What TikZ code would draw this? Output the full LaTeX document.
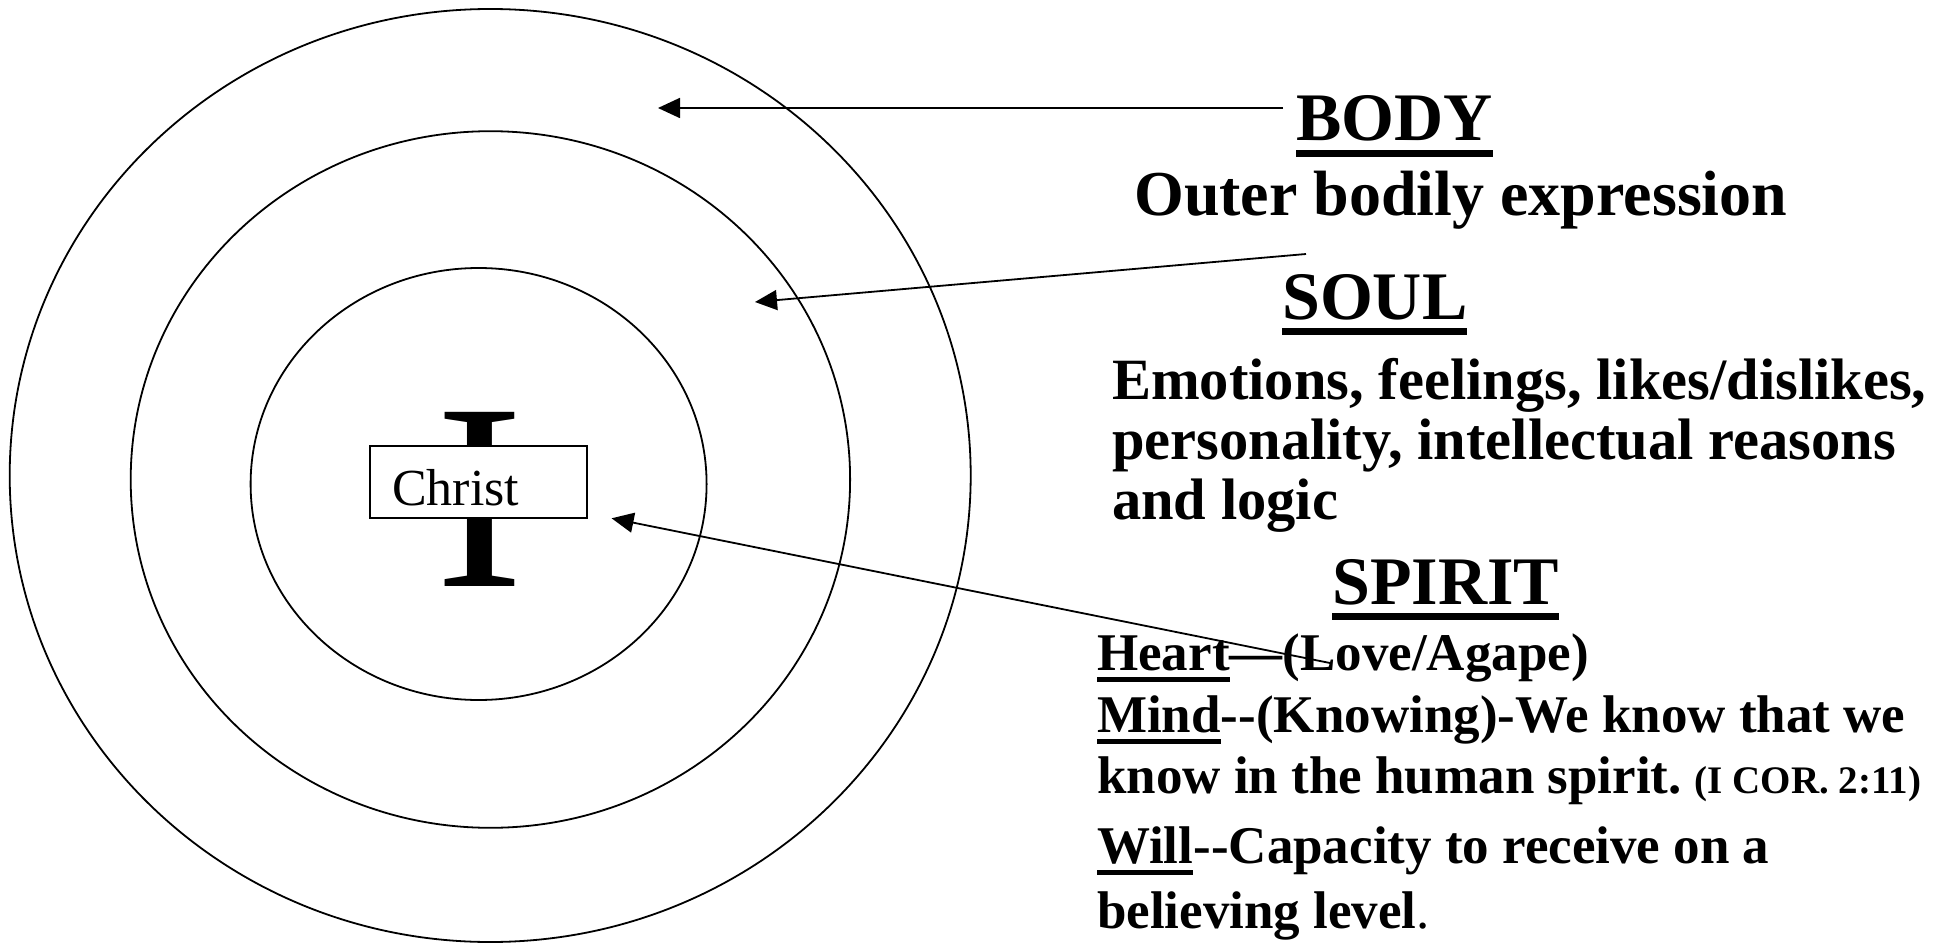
\documentclass[tikz,border=0pt]{standalone}
\usepackage{fontspec}
\usepackage{graphicx}
\setmainfont{Liberation Serif}
\usetikzlibrary{arrows.meta}
\newcommand\myul[1]{\setbox0\hbox{#1}\rlap{\rule[-0.23em]{\wd0}{0.095em}}\box0}
\tikzset{
  ring/.style={draw, line width=1.8pt},
  head/.style={anchor=base west, inner sep=0pt, font=\bfseries\fontsize{68}{68}\selectfont},
  big/.style={anchor=base west, inner sep=0pt, font=\bfseries\fontsize{64}{64}\selectfont},
  mid/.style={anchor=base west, inner sep=0pt, font=\bfseries\fontsize{58.5}{58.5}\selectfont},
  small/.style={anchor=base west, inner sep=0pt, font=\bfseries\fontsize{53}{53}\selectfont},
  conn/.style={draw, line width=1.8pt, -{Triangle[length=22pt,width=20pt]}},
}
\begin{document}
\begin{tikzpicture}[x=1pt,y=-1pt]
\useasboundingbox (0,0) rectangle (1948,944);
% rings
\draw[ring] (490.2,475.5) ellipse [x radius=480.5pt, y radius=466.5pt];
\draw[ring] (490.4,479.5) ellipse [x radius=359.7pt, y radius=348.3pt];
\draw[ring] (478.6,484) ellipse [x radius=228pt, y radius=216pt];
% I and Christ box
\node[inner sep=0pt, font=\fontsize{266}{266}\selectfont] (ibeam) at (479.5,499.5) {I};
\node[draw, fill=white, line width=1.4pt, inner xsep=22pt, inner ysep=0pt,
      text width=173pt, align=left, minimum height=72pt,
      text height=46pt, text depth=0pt, font=\fontsize{52}{52}\selectfont] (christ) at (478.5,482) {Christ};
% texts
\node[head] (body) at (1296,141) {\myul{BODY}};
\node[big] (bodytext) at (1134,215) {Outer bodily expression};
\node[head] (soul) at (1282,319) {\myul{SOUL}};
\node[mid] (soul1) at (1112,399) {Emotions, feelings, likes/dislikes,};
\node[mid] (soul2) at (1112,459) {personality, intellectual reasons};
\node[mid] (soul3) at (1112,519) {and logic};
\node[head] (spirit) at (1332,604) {\myul{SPIRIT}};
\node[small] (heart) at (1097,670) {\myul{Heart}---(Love/Agape)};
\node[small] (mind) at (1097,732) {\myul{Mind}{-}{-}(Knowing)-We know that we};
\node[small] (know) at (1097,793) {know in the human spirit.{\fontsize{39}{39}\selectfont{} (I COR. 2:11)}};
\node[small] (will) at (1097,863) {\myul{Will}{-}{-}Capacity to receive on a};
\node[small] (believe) at (1097,928) {believing level\textmd{.}};
% arrow ends
\coordinate (bodystart) at (1283,108);
\coordinate (bodytip) at (658,108);
\coordinate (soulstart) at (1306,254);
\coordinate (soultip) at (755,302);
\coordinate (spiritstart) at (1330,663);
\coordinate (spirittip) at (611.6,518.3);
\draw[conn] (bodystart) -- (bodytip);
\draw[conn] (soulstart) -- (soultip);
\draw[conn] (spiritstart) -- (spirittip);
\end{tikzpicture}
\end{document}
